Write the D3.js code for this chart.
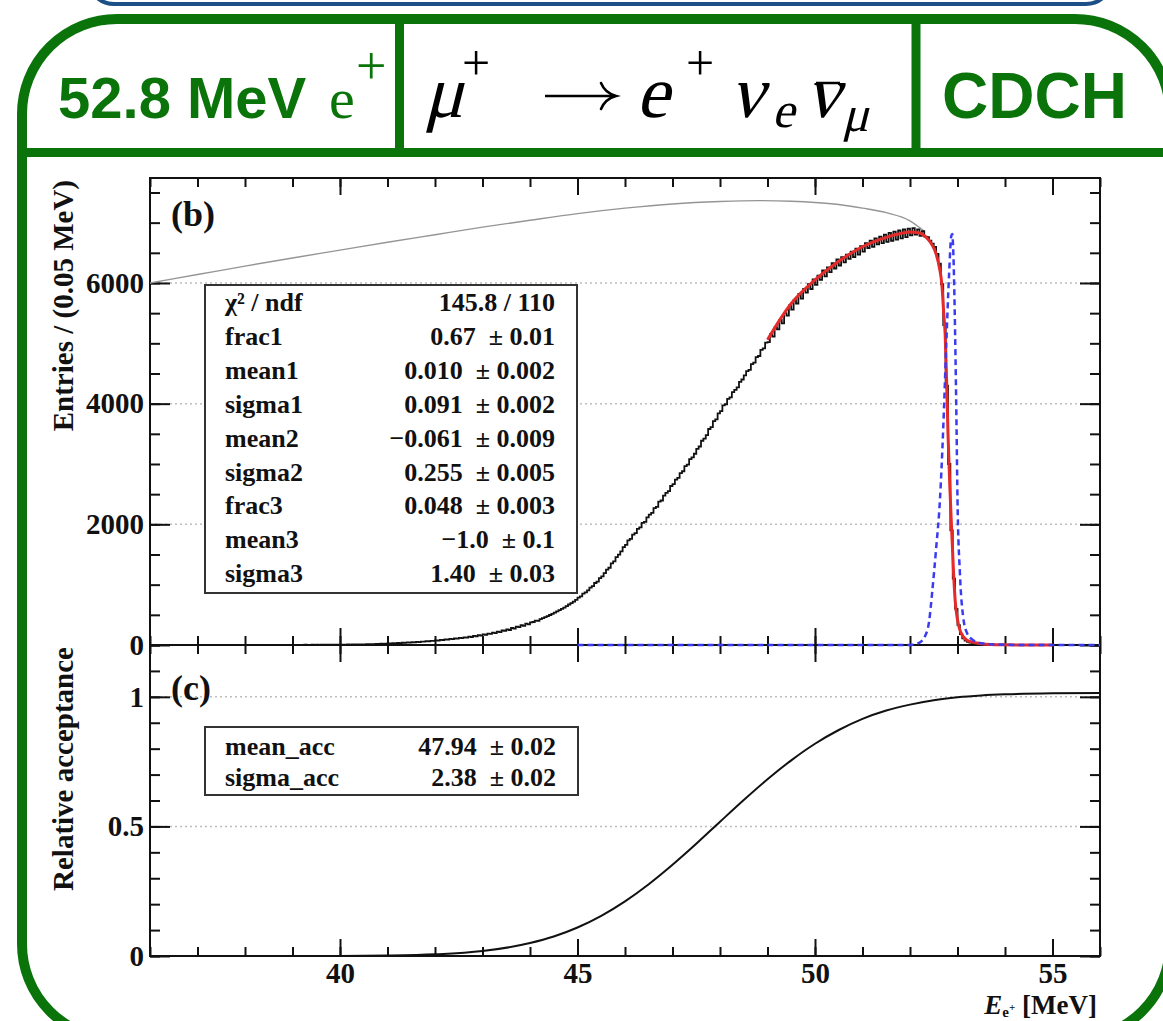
<!DOCTYPE html>
<html>
<head>
<meta charset="utf-8">
<script src="https://cdn.jsdelivr.net/npm/d3@7"></script>
<style>
  html, body { margin: 0; padding: 0; background: #fff; overflow: hidden; }
  svg { display: block; }
</style>
</head>
<body>
<svg id="chart" width="1163" height="1021"></svg>
<script>
// ---------- data ----------
const energyRange = [36, 56];                 // MeV
const energyMajorTicks = [40, 45, 50, 55];
const energyMinorTicks = d3.range(36, 57, 1);
const entriesRange = [0, 7740];
const entriesMajorTicks = [0, 2000, 4000, 6000];
const entriesMinorTicks = d3.range(0, 7741, 500);
const accRange = [0, 1.2];
const accMajorTicks = [0, 0.5, 1];
const accMinorTicks = d3.range(0, 1.21, 0.1);

// measured positron spectrum, 0.05 MeV bins starting at 38.00 MeV
const histStart = 38.0;
const histBin = 0.05;
const histCounts = [
  // 38 MeV
  0,0,1,0,0,1,0,1,0,1,1,0,2,1,1,0,2,1,2,1,
  // 39 MeV
  2,1,3,2,2,4,3,2,4,3,5,3,4,6,4,5,6,4,7,5,
  // 40 MeV
  5,7,6,8,7,9,8,11,10,12,11,14,13,16,15,18,17,21,20,24,
  // 41 MeV
  26,25,30,28,33,32,37,35,42,40,46,45,52,49,57,55,64,61,70,68,
  // 42 MeV
  78,74,85,83,92,88,101,96,108,106,117,114,127,122,138,133,150,145,163,157,
  // 43 MeV
  175,168,190,183,205,198,222,214,240,236,258,249,282,270,303,296,327,318,354,341,
  // 44 MeV
  376,381,405,399,430,446,462,478,497,515,538,556,578,600,621,645,671,693,719,747,
  // 45 MeV
  786,805,852,871,905,950,975,1028,1052,1108,1139,1190,1250,1280,1352,1385,1455,1497,1553,1622,
  // 46 MeV
  1660,1735,1760,1830,1855,1925,1950,2025,2040,2115,2160,2190,2270,2290,2375,2395,2475,2520,2550,2635,
  // 47 MeV
  2665,2740,2770,2850,2880,2965,2990,3080,3110,3170,3250,3290,3385,3420,3480,3580,3610,3710,3740,3840,
  // 48 MeV
  3875,3970,3990,4080,4105,4190,4230,4270,4360,4400,4470,4540,4560,4655,4680,4770,4790,4890,4915,5010,
  // 49 MeV
  5020,5150,5110,5270,5230,5390,5330,5500,5460,5630,5560,5720,5660,5820,5740,5900,5840,5980,5900,6060,
  // 50 MeV
  5970,6120,6050,6210,6110,6260,6180,6330,6240,6390,6290,6430,6340,6470,6400,6520,6430,6570,6470,6610,
  // 51 MeV
  6520,6660,6580,6700,6600,6740,6640,6770,6660,6800,6680,6830,6700,6850,6720,6870,6740,6890,6760,6900,
  // 52 MeV
  6790,6910,6800,6890,6780,6860,6770,6760,6700,6650,6600,6480,6320,5980,5300,4300,3000,1900,1100,600,
  // 53 MeV
  330,180,110,75,52,38,28,20,15,11,8,6,5,4,3,2,2,1,1,1,
  // 54 MeV
  1,0,1,0,0,1,0,0,0,1,0,0,0,0,0,0,0,0,0,0
];

// theoretical Michel spectrum (grey)
const michelCurve = [
  [36.0,6000],[37.0,6140],[38.0,6280],[39.0,6415],[40.0,6545],[41.0,6675],
  [42.0,6800],[43.0,6925],[44.0,7040],[45.0,7150],[46.0,7240],[47.0,7310],
  [48.0,7350],[48.8,7365],[49.5,7355],[50.0,7335],[50.5,7300],[51.0,7240],
  [51.5,7165],[52.0,7030],[52.2,6920],[52.3,6855]
];

// fitted edge (red)
const fitCurve = [
  [49.0,5060],[49.5,5660],[50.0,6050],[50.5,6360],[51.0,6600],[51.5,6755],
  [51.8,6820],[52.0,6845],[52.2,6830],[52.35,6750],[52.45,6650],[52.55,6480],
  [52.62,6250],[52.67,5980],[52.71,5500],[52.74,5150],[52.77,4400],[52.80,3500],
  [52.84,2600],[52.88,1850],[52.92,1150],[52.95,745],[53.0,420],[53.05,250],
  [53.12,140],[53.2,80],[53.33,45],[53.5,20],[53.7,8],[54.0,3],[54.5,1],[55.0,0]
];

// energy response function (blue, dashed)
const responseCurve = [
  [45.0,0],[50.0,0],[52.0,0],[52.1,15],[52.2,40],[52.3,120],[52.4,380],
  [52.47,900],[52.55,1600],[52.63,2400],[52.7,3600],[52.76,4900],[52.82,6100],
  [52.87,6780],[52.89,6810],[52.91,6550],[52.95,5150],[52.98,3600],[53.0,2400],
  [53.05,1200],[53.12,460],[53.2,200],[53.33,80],[53.5,30],[53.8,8],[54.2,2],
  [55.0,0],[56.0,0]
];

// relative acceptance
const acceptanceCurve = [
  [36,0],[38,0.00002],[39,0.0002],[40,0.0004],[41,0.0018],[42,0.0064],
  [43,0.019],[44,0.050],[44.5,0.0753],[45,0.110],[45.5,0.155],[46,0.211],
  [46.5,0.277],[47,0.352],[47.5,0.433],[48,0.518],[48.5,0.602],[49,0.682],
  [49.5,0.755],[50,0.819],[50.5,0.872],[51,0.915],[51.5,0.947],[52,0.970],
  [52.5,0.987],[53,0.998],[53.5,1.005],[54,1.0095],[55,1.0135],[56,1.0146]
];

const fitStats = [
  ["χ² / ndf", "145.8 / 110"],
  ["frac1",  "0.67  ± 0.01"],
  ["mean1",  "0.010  ± 0.002"],
  ["sigma1", "0.091  ± 0.002"],
  ["mean2",  "−0.061  ± 0.009"],
  ["sigma2", "0.255  ± 0.005"],
  ["frac3",  "0.048  ± 0.003"],
  ["mean3",  "−1.0  ± 0.1"],
  ["sigma3", "1.40  ± 0.03"]
];
const accStats = [
  ["mean_acc",  "47.94  ± 0.02"],
  ["sigma_acc", "2.38  ± 0.02"]
];

// ---------- layout ----------
const svg = d3.select("#chart");
const SERIF = "'Liberation Serif','Times New Roman',serif";
const SANS = "'Liberation Sans',Arial,sans-serif";
const GREEN = "#0a730a";

const L = 150, R = 1100;
const topPanel = {t: 178, b: 645};
const botPanel = {t: 645, b: 956};

const x = d3.scaleLinear().domain(energyRange).range([L, R]);
const yTop = d3.scaleLinear().domain(entriesRange).range([topPanel.b, topPanel.t]);
const yBot = d3.scaleLinear().domain(accRange).range([botPanel.b, botPanel.t]);

// ---------- slide decoration ----------
svg.append("rect")
  .attr("x", 88).attr("y", -80).attr("width", 1024).attr("height", 84)
  .attr("rx", 26).attr("fill", "none").attr("stroke", "#1b4f86").attr("stroke-width", 4);

svg.append("rect")
  .attr("x", 22).attr("y", 19).attr("width", 1148).attr("height", 1020)
  .attr("rx", 95).attr("fill", "none").attr("stroke", GREEN).attr("stroke-width", 10);
svg.append("line").attr("x1", 22).attr("x2", 1170).attr("y1", 152.5).attr("y2", 152.5)
  .attr("stroke", GREEN).attr("stroke-width", 9);
[399.5, 916].forEach(xx => {
  svg.append("line").attr("x1", xx).attr("x2", xx).attr("y1", 19).attr("y2", 152)
    .attr("stroke", GREEN).attr("stroke-width", 9);
});

// header cell 1
const h1 = svg.append("text").attr("y", 118).attr("fill", GREEN);
h1.append("tspan").attr("x", 58).attr("font-family", SANS).attr("font-weight", "bold")
  .attr("font-size", 58).text("52.8 MeV");
h1.append("tspan").attr("x", 329).attr("font-family", SERIF).attr("font-size", 58).text("e");
svg.append("text").attr("x", 356).attr("y", 84).attr("fill", GREEN)
  .attr("font-family", SERIF).attr("font-size", 54).text("+");

// header cell 2: decay formula (math italic drawn as slanted serif glyphs)
const fml = [
  {t: "μ", x: 424, y: 117, s: 74, it: true},
  {t: "+", x: 462, y: 80, s: 50},
  {t: "e", x: 636, y: 117, s: 74, it: true},
  {t: "+", x: 686, y: 80, s: 50},
  {t: "ν", x: 730, y: 117, s: 74, it: true},
  {t: "e", x: 772, y: 127, s: 50, it: true},
  {t: "ν", x: 806, y: 117, s: 74, it: true},
  {t: "μ", x: 842, y: 131, s: 50, it: true}
];
fml.forEach(p => {
  svg.append("text")
    .attr("transform", `translate(${p.x},${p.y})` + (p.it ? " skewX(-14)" : ""))
    .attr("font-family", SERIF).attr("font-size", p.s)
    .attr("fill", "#000").text(p.t);
});
// reaction arrow
svg.append("line").attr("x1", 545).attr("x2", 614).attr("y1", 96).attr("y2", 96)
  .attr("stroke", "#000").attr("stroke-width", 2.6);
svg.append("path").attr("d", "M601,83 Q605,93 616,96 Q605,99 601,109")
  .attr("fill", "none").attr("stroke", "#000").attr("stroke-width", 2.6)
  .attr("stroke-linecap", "round");
// bar over the antineutrino
svg.append("line").attr("x1", 816).attr("x2", 840).attr("y1", 83).attr("y2", 83)
  .attr("stroke", "#000").attr("stroke-width", 2.5);

// header cell 3
svg.append("text").attr("x", 942).attr("y", 118).attr("fill", GREEN)
  .attr("font-family", SANS).attr("font-weight", "bold").attr("font-size", 64).text("CDCH");

// ---------- clip regions ----------
const defs = svg.append("defs");
defs.append("clipPath").attr("id", "clipTop").append("rect")
  .attr("x", L).attr("y", topPanel.t).attr("width", R - L).attr("height", topPanel.b - topPanel.t + 3);
defs.append("clipPath").attr("id", "clipBot").append("rect")
  .attr("x", L).attr("y", botPanel.t).attr("width", R - L).attr("height", botPanel.b - botPanel.t);

// ---------- grids ----------
function grid(scale, vals) {
  svg.append("g").selectAll("line").data(vals).join("line")
    .attr("x1", L).attr("x2", R)
    .attr("y1", d => scale(d)).attr("y2", d => scale(d))
    .attr("stroke", "#bdbdbd").attr("stroke-width", 1.5).attr("stroke-dasharray", "2,3");
}
grid(yTop, [2000, 4000, 6000]);
grid(yBot, [0.5, 1]);

// ---------- axes ----------
function axis(transform, gen, scale, majors, minors, majLen, minLen, fmt, pad) {
  const gm = svg.append("g").attr("transform", transform)
    .call(gen(scale).tickValues(minors).tickSize(-minLen).tickFormat(""));
  const gM = svg.append("g").attr("transform", transform)
    .call(gen(scale).tickValues(majors).tickSize(-majLen).tickPadding(pad || 6).tickFormat(fmt || (() => "")));
  [gm, gM].forEach(g => {
    g.select(".domain").remove();
    g.selectAll("line").attr("stroke", "#111").attr("stroke-width", 2);
    g.selectAll("text").attr("font-family", SERIF).attr("font-weight", "bold")
      .attr("font-size", 29).attr("fill", "#111");
  });
}
const fmtEntries = d => String(d);
const fmtAcc = d => (d === 0 ? "0" : d === 1 ? "1" : "0.5");

// top panel
axis(`translate(0,${topPanel.b})`, d3.axisBottom, x, energyMajorTicks, energyMinorTicks, 17, 9);
axis(`translate(0,${topPanel.t})`, d3.axisTop, x, energyMajorTicks, energyMinorTicks, 17, 9);
axis(`translate(${L},0)`, d3.axisLeft, yTop, entriesMajorTicks, entriesMinorTicks, 20, 10, fmtEntries, 6);
axis(`translate(${R},0)`, d3.axisRight, yTop, entriesMajorTicks, entriesMinorTicks, 20, 10);

// bottom panel
axis(`translate(0,${botPanel.b})`, d3.axisBottom, x, energyMajorTicks, energyMinorTicks, 17, 9, d => String(d), 6);
axis(`translate(0,${botPanel.t})`, d3.axisTop, x, energyMajorTicks, energyMinorTicks, 17, 9);
axis(`translate(${L},0)`, d3.axisLeft, yBot, accMajorTicks, accMinorTicks, 20, 10, fmtAcc, 6);
axis(`translate(${R},0)`, d3.axisRight, yBot, accMajorTicks, accMinorTicks, 20, 10);

// frames
svg.append("rect").attr("x", L).attr("y", topPanel.t).attr("width", R - L)
  .attr("height", topPanel.b - topPanel.t).attr("fill", "none").attr("stroke", "#111").attr("stroke-width", 2);
svg.append("rect").attr("x", L).attr("y", botPanel.t).attr("width", R - L)
  .attr("height", botPanel.b - botPanel.t).attr("fill", "none").attr("stroke", "#111").attr("stroke-width", 2);

// ---------- top panel curves ----------
const gTop = svg.append("g").attr("clip-path", "url(#clipTop)");
const lineTop = d3.line().x(d => x(d[0])).y(d => yTop(d[1]));

gTop.append("path").datum(michelCurve)
  .attr("d", lineTop.curve(d3.curveMonotoneX))
  .attr("fill", "none").attr("stroke", "#959595").attr("stroke-width", 1.4);

const histPts = histCounts.map((c, i) => [histStart + i * histBin, c]);
histPts.push([histStart + histCounts.length * histBin, 0]);
gTop.append("path").datum(histPts)
  .attr("d", d3.line().x(d => x(d[0])).y(d => yTop(d[1])).curve(d3.curveStepAfter))
  .attr("fill", "none").attr("stroke", "#111").attr("stroke-width", 1.8);

gTop.append("path").datum(fitCurve)
  .attr("d", d3.line().x(d => x(d[0])).y(d => yTop(d[1])).curve(d3.curveMonotoneX))
  .attr("fill", "none").attr("stroke", "#e52a2a").attr("stroke-width", 3);

gTop.append("path").datum(responseCurve)
  .attr("d", d3.line().x(d => x(d[0])).y(d => yTop(d[1])).curve(d3.curveMonotoneX))
  .attr("fill", "none").attr("stroke", "#3b3bf2").attr("stroke-width", 2.5)
  .attr("stroke-dasharray", "6,4");

// ---------- bottom panel curve ----------
svg.append("g").attr("clip-path", "url(#clipBot)")
  .append("path").datum(acceptanceCurve)
  .attr("d", d3.line().x(d => x(d[0])).y(d => yBot(d[1])).curve(d3.curveMonotoneX))
  .attr("fill", "none").attr("stroke", "#111").attr("stroke-width", 2);

// ---------- stat boxes ----------
function statBox(rows, bx, by, bw, bh, y0, dy) {
  svg.append("rect").attr("x", bx).attr("y", by).attr("width", bw).attr("height", bh)
    .attr("fill", "#fff").attr("stroke", "#333").attr("stroke-width", 2);
  rows.forEach((r, i) => {
    const yy = y0 + i * dy;
    svg.append("text").attr("x", bx + 20).attr("y", yy)
      .attr("font-family", SERIF).attr("font-weight", "bold").attr("font-size", 26)
      .attr("fill", "#111").text(r[0]);
    svg.append("text").attr("x", bx + bw - 22).attr("y", yy)
      .attr("text-anchor", "end").attr("xml:space", "preserve").style("white-space", "pre")
      .attr("font-family", SERIF).attr("font-weight", "bold").attr("font-size", 26)
      .attr("fill", "#111").text(r[1]);
  });
}
statBox(fitStats, 205, 285, 372, 308, 311, 33.9);
statBox(accStats, 205, 727, 373, 68, 755, 31);

// panel tags
svg.append("text").attr("x", 171).attr("y", 226).attr("font-family", SERIF)
  .attr("font-weight", "bold").attr("font-size", 36).attr("fill", "#111").text("(b)");
svg.append("text").attr("x", 171).attr("y", 700).attr("font-family", SERIF)
  .attr("font-weight", "bold").attr("font-size", 36).attr("fill", "#111").text("(c)");

// axis titles
svg.append("text").attr("transform", "translate(73,180) rotate(-90)")
  .attr("text-anchor", "end").attr("font-family", SERIF).attr("font-weight", "bold")
  .attr("font-size", 29).attr("fill", "#111").text("Entries / (0.05 MeV)");
svg.append("text").attr("transform", "translate(73,647) rotate(-90)")
  .attr("text-anchor", "end").attr("font-family", SERIF).attr("font-weight", "bold")
  .attr("font-size", 29).attr("fill", "#111").text("Relative acceptance");

const xt = svg.append("text").attr("x", 1097).attr("y", 1014).attr("text-anchor", "end")
  .attr("font-family", SERIF).attr("font-weight", "bold").attr("font-size", 27).attr("fill", "#111");
xt.append("tspan").attr("font-style", "italic").text("E");
xt.append("tspan").attr("font-size", 15).attr("dy", 3).text("e");
xt.append("tspan").attr("font-size", 11).attr("dy", -6).text("+");
xt.append("tspan").attr("dy", 3).text(" [MeV]");
</script>
</body>
</html>
